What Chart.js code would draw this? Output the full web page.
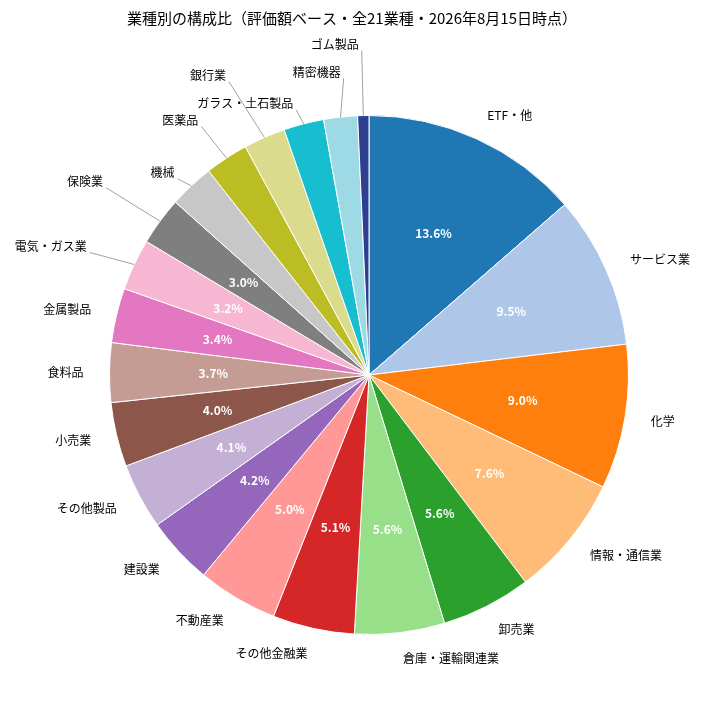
<!DOCTYPE html>
<html><head><meta charset="utf-8">
<script src="https://cdn.jsdelivr.net/npm/chart.js@4/dist/chart.umd.min.js"></script>
<style>body{margin:0;background:#fff}</style>
</head><body>
<canvas id="c" width="705" height="714"></canvas>
<script>
const categories = ['ETF・他','サービス業','化学','情報・通信業','卸売業','倉庫・運輸関連業','その他金融業','不動産業','建設業','その他製品','小売業','食料品','金属製品','電気・ガス業','保険業','機械','医薬品','銀行業','ガラス・土石製品','精密機器','ゴム製品'];
const shares = [13.6,9.5,9.0,7.6,5.6,5.6,5.1,5.0,4.2,4.1,4.0,3.7,3.4,3.2,3.0,2.8,2.7,2.6,2.5,2.1,0.7];
const colors = ['#1f77b4','#aec7e8','#ff7f0e','#ffbb78','#2ca02c','#98df8a','#d62728','#ff9896','#9467bd','#c5b0d5','#8c564b','#c49c94','#e377c2','#f7b6d2','#7f7f7f','#c7c7c7','#bcbd22','#dbdb8d','#17becf','#9edae5','#2f3f8f'];
// label nudges for crowded small slices (with leader lines)
const nudges = {13:[-60,-7],14:[-54,-24],15:[-11,6],16:[-32,-16],17:[-46,-38],18:[-52,5],19:[-21,-19],20:[-28,-45]};
const FONT = '"Noto Sans CJK JP", "DejaVu Sans", sans-serif';

const labelPlugin = {
  id: 'labels',
  afterDatasetsDraw(chart) {
    const ctx = chart.ctx;
    const arcs = chart.getDatasetMeta(0).data;
    ctx.save();
    ctx.fillStyle = '#000';
    ctx.font = '15px ' + FONT;
    ctx.textAlign = 'center';
    ctx.textBaseline = 'middle';
    ctx.fillText('業種別の構成比（評価額ベース・全21業種・2026年8月15日時点）', 352, 18);
    arcs.forEach((a, i) => {
      const mid = (a.startAngle + a.endAngle) / 2;
      const r = a.outerRadius;
      const cx = a.x, cy = a.y;
      const dx = Math.cos(mid), dy = Math.sin(mid);
      let lx = cx + dx * r * 1.1, ly = cy + dy * r * 1.1;
      ctx.font = '12px ' + FONT;
      if (nudges[i]) {
        const ex = cx + dx * r, ey = cy + dy * r;
        lx += nudges[i][0]; ly += nudges[i][1];
        const w = ctx.measureText(categories[i]).width;
        ctx.strokeStyle = '#888';
        ctx.lineWidth = 0.8;
        ctx.beginPath();
        ctx.moveTo(ex, ey);
        ctx.lineTo(lx + w / 2 + 3, ly + 6);
        ctx.stroke();
        ctx.fillStyle = '#000';
        ctx.textAlign = 'center';
        ctx.fillText(categories[i], lx, ly);
      } else {
        ctx.fillStyle = '#000';
        ctx.textAlign = dx >= 0 ? 'left' : 'right';
        ctx.fillText(categories[i], lx, ly);
      }
      if (shares[i] >= 3) {
        ctx.fillStyle = '#fff';
        ctx.font = 'bold 12px ' + FONT;
        ctx.textAlign = 'center';
        ctx.fillText(shares[i].toFixed(1) + '%', cx + dx * r * 0.6, cy + dy * r * 0.6);
      }
    });
    ctx.restore();
  }
};

new Chart(document.getElementById('c'), {
  type: 'pie',
  data: {
    labels: categories,
    datasets: [{ data: shares, backgroundColor: colors, borderColor: '#fff', borderWidth: 1 }]
  },
  options: {
    responsive: false,
    animation: false,
    layout: { padding: { left: 109, right: 76, top: 115, bottom: 79 } },
    plugins: { legend: { display: false }, tooltip: { enabled: false } }
  },
  plugins: [labelPlugin]
});
</script>
</body></html>
